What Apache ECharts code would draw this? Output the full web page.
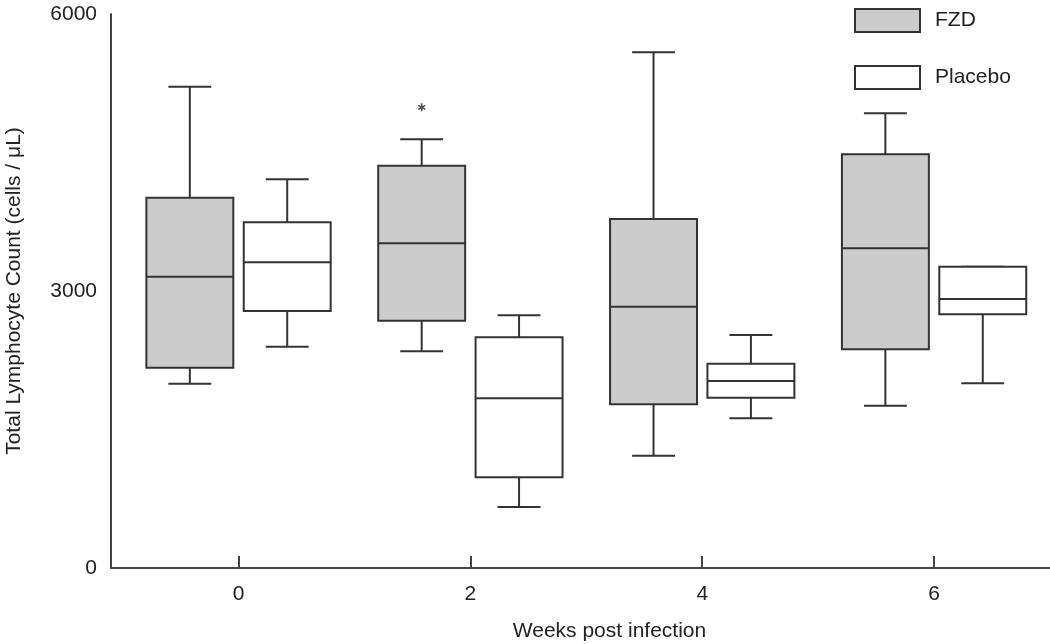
<!DOCTYPE html>
<html>
<head>
<meta charset="utf-8">
<script src="https://cdn.jsdelivr.net/npm/echarts@6/dist/echarts.min.js"></script>
<style>
  html, body { margin: 0; padding: 0; background: #ffffff; }
  #chart { width: 1050px; height: 644px; }
</style>
</head>
<body>
<div id="chart"></div>
<script>
// ---- Data ----
const weeks = [0, 2, 4, 6];
const seriesNames = ['FZD', 'Placebo'];

const fzdMin    = [1996, 2347, 1216, 1758];
const fzdQ1     = [2170, 2678, 1773, 2368];
const fzdMedian = [3155, 3516, 2830, 3462];
const fzdQ3     = [4010, 4357, 3780, 4480];
const fzdMax    = [5213, 4643, 5585, 4924];

const placeboMin    = [2397,  661, 1621, 2000];
const placeboQ1     = [2783,  982, 1844, 2748];
const placeboMedian = [3311, 1838, 2025, 2913];
const placeboQ3     = [3744, 2498, 2213, 3263];
const placeboMax    = [4210, 2737, 2523, 3263];

const fzdOutlierWeek  = [2];
const fzdOutlierValue = [4989];

const yTicks = [0, 3000, 6000];

// ---- Layout constants (not data) ----
const GROUP_OFFSET = 0.42;  // in week units
const BOX_WIDTH = 0.75;     // in week units
const CAP_WIDTH = 0.37;     // in week units
const STROKE = '#333333';
const FONT = '"Liberation Sans", Arial, Helvetica, sans-serif';

function buildBoxData(mins, q1s, meds, q3s, maxs) {
  return weeks.map((w, i) => [w, mins[i], q1s[i], meds[i], q3s[i], maxs[i]]);
}

function makeRenderer(offset, fill) {
  return function (params, api) {
    const x = api.value(0) + offset;
    const vMin = api.value(1), vQ1 = api.value(2), vMed = api.value(3),
          vQ3 = api.value(4), vMax = api.value(5);
    const pMin = api.coord([x, vMin]);
    const pQ1 = api.coord([x, vQ1]);
    const pMed = api.coord([x, vMed]);
    const pQ3 = api.coord([x, vQ3]);
    const pMax = api.coord([x, vMax]);
    const bw = api.size([BOX_WIDTH, 0])[0];
    const cw = api.size([CAP_WIDTH, 0])[0];
    const cx = pMed[0];
    const ls = { stroke: STROKE, lineWidth: 2, fill: null };
    return {
      type: 'group',
      children: [
        { type: 'line', shape: { x1: cx, y1: pMax[1], x2: cx, y2: pQ3[1] }, style: ls },
        { type: 'line', shape: { x1: cx, y1: pQ1[1], x2: cx, y2: pMin[1] }, style: ls },
        { type: 'line', shape: { x1: cx - cw / 2, y1: pMax[1], x2: cx + cw / 2, y2: pMax[1] }, style: ls },
        { type: 'line', shape: { x1: cx - cw / 2, y1: pMin[1], x2: cx + cw / 2, y2: pMin[1] }, style: ls },
        { type: 'rect', shape: { x: cx - bw / 2, y: pQ3[1], width: bw, height: pQ1[1] - pQ3[1] },
          style: { fill: fill, stroke: STROKE, lineWidth: 2 } },
        { type: 'line', shape: { x1: cx - bw / 2, y1: pMed[1], x2: cx + bw / 2, y2: pMed[1] }, style: ls }
      ]
    };
  };
}

const asteriskPath = 'path://M-1,-5L1,-5L1,5L-1,5Z' +
  'M3.83,-3.366L4.83,-1.634L-3.83,3.366L-4.83,1.634Z' +
  'M-4.83,-1.634L-3.83,-3.366L4.83,1.634L3.83,3.366Z';

const chart = echarts.init(document.getElementById('chart'), null, { renderer: 'canvas' });

const option = {
  backgroundColor: '#ffffff',
  animation: false,
  textStyle: { fontFamily: FONT },
  grid: { left: 111, right: 0, top: 14, bottom: 76, containLabel: false, outerBoundsMode: 'none' },
  legend: {
    orient: 'vertical',
    left: 849,
    top: 3,
    itemWidth: 65,
    itemHeight: 23,
    itemGap: 32,
    icon: 'rect',
    selectedMode: false,
    textStyle: { fontSize: 21, color: '#222', fontFamily: FONT, padding: [0, 0, 0, 10] },
    data: [
      { name: seriesNames[0], icon: 'rect', itemStyle: { color: '#cccccc', borderColor: STROKE, borderWidth: 2 } },
      { name: seriesNames[1], icon: 'rect', itemStyle: { color: '#ffffff', borderColor: STROKE, borderWidth: 2 } }
    ]
  },
  xAxis: {
    type: 'value',
    min: -1.1,
    max: 7,
    name: 'Weeks post infection',
    nameLocation: 'middle',
    nameGap: 53,
    nameTextStyle: { fontSize: 21, color: '#222', fontFamily: FONT, padding: [0, 0, 0, 58] },
    axisLine: { show: true, onZero: false, lineStyle: { color: '#444', width: 2 } },
    axisTick: { show: true, inside: true, length: 12, customValues: weeks, lineStyle: { color: '#444', width: 2 } },
    axisLabel: { show: true, customValues: weeks, margin: 16, fontSize: 21, color: '#222', fontFamily: FONT },
    splitLine: { show: false }
  },
  yAxis: {
    type: 'value',
    min: yTicks[0],
    max: yTicks[yTicks.length - 1],
    interval: yTicks[1] - yTicks[0],
    name: 'Total Lymphocyte Count (cells / μL)',
    nameLocation: 'middle',
    nameGap: 86,
    nameTextStyle: { fontSize: 21, color: '#222', fontFamily: FONT },
    axisLine: { show: true, onZero: false, lineStyle: { color: '#444', width: 2 } },
    axisTick: { show: false },
    axisLabel: { show: true, margin: 14, fontSize: 21, color: '#222', fontFamily: FONT,
                 formatter: (v) => String(v) },
    splitLine: { show: false }
  },
  series: [
    {
      name: seriesNames[0],
      type: 'custom',
      itemStyle: { color: '#cccccc', borderColor: STROKE },
      encode: { x: 0, y: [1, 2, 3, 4, 5] },
      renderItem: makeRenderer(-GROUP_OFFSET, '#cccccc'),
      data: buildBoxData(fzdMin, fzdQ1, fzdMedian, fzdQ3, fzdMax),
      z: 2
    },
    {
      name: seriesNames[1],
      type: 'custom',
      itemStyle: { color: '#ffffff', borderColor: STROKE },
      encode: { x: 0, y: [1, 2, 3, 4, 5] },
      renderItem: makeRenderer(GROUP_OFFSET, '#ffffff'),
      data: buildBoxData(placeboMin, placeboQ1, placeboMedian, placeboQ3, placeboMax),
      z: 2
    },
    {
      name: 'FZD outliers',
      type: 'scatter',
      symbol: asteriskPath,
      symbolSize: [8, 8],
      itemStyle: { color: '#222' },
      data: fzdOutlierWeek.map((w, i) => [w - GROUP_OFFSET, fzdOutlierValue[i]]),
      z: 3
    }
  ]
};

chart.setOption(option);
</script>
</body>
</html>
